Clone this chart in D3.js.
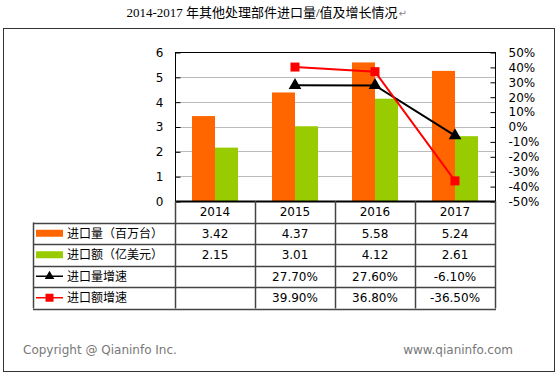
<!DOCTYPE html>
<html>
<head>
<meta charset="utf-8">
<script src="https://cdn.jsdelivr.net/npm/d3@7"></script>
<style>
  body { margin: 0; background: #fff; }
  svg text { font-family: "DejaVu Sans", Verdana, sans-serif; }
</style>
</head>
<body>
<div id="chart"></div>
<script>
  // chart data
  var years = ["2014", "2015", "2016", "2017"];
  var volume = [3.42, 4.37, 5.58, 5.24];        // 进口量（百万台）
  var value = [2.15, 3.01, 4.12, 2.61];         // 进口额（亿美元）
  var volumeGrowth = [null, 27.7, 27.6, -6.1];  // 进口量增速 %
  var valueGrowth = [null, 39.9, 36.8, -36.5];  // 进口额增速 %
  var leftTicks = [0, 1, 2, 3, 4, 5, 6];
  var rightTicks = [50, 40, 30, 20, 10, 0, -10, -20, -30, -40, -50];

  var W = 558, H = 376;
  var plot = {left: 175, right: 495, top: 52, bottom: 201};

  var svg = d3.select("#chart").append("svg")
    .attr("width", W).attr("height", H);

  // title
  var title = svg.append("text")
    .attr("x", 262).attr("y", 17)
    .attr("text-anchor", "middle")
    .style("font-family", "'Liberation Serif', 'Noto Sans CJK SC', serif")
    .style("font-size", "13px")
    .text("2014-2017 年其他处理部件进口量/值及增长情况");
  var tb = title.node().getBBox();
  svg.append("text")
    .attr("x", tb.x + tb.width + 1).attr("y", 17)
    .style("font-size", "10px").attr("fill", "#888")
    .text("↵");

  // outer frame
  svg.append("rect")
    .attr("x", 3.5).attr("y", 28.5).attr("width", 551).attr("height", 343)
    .attr("fill", "none").attr("stroke", "#333").attr("stroke-width", 1);

  var x = d3.scaleBand().domain(years).range([plot.left, plot.right]);
  var y = d3.scaleLinear().domain([0, 6]).range([plot.bottom, plot.top]);
  var y2 = d3.scaleLinear().domain([-50, 50]).range([plot.bottom, plot.top]);
  var barW = 23;

  // grid lines
  svg.append("g").selectAll("line").data(leftTicks.slice(1, -1)).enter()
    .append("line")
    .attr("x1", plot.left).attr("x2", plot.right)
    .attr("y1", function(d) { return Math.round(y(d)) + 0.5; })
    .attr("y2", function(d) { return Math.round(y(d)) + 0.5; })
    .attr("stroke", "#bbb");

  // bars
  svg.append("g").selectAll("rect").data(volume).enter()
    .append("rect")
    .attr("x", function(d, i) { return x(years[i]) + x.bandwidth() / 2 - barW; })
    .attr("y", function(d) { return y(d); })
    .attr("width", barW)
    .attr("height", function(d) { return y(0) - y(d); })
    .attr("fill", "#ff6600");
  svg.append("g").selectAll("rect").data(value).enter()
    .append("rect")
    .attr("x", function(d, i) { return x(years[i]) + x.bandwidth() / 2; })
    .attr("y", function(d) { return y(d); })
    .attr("width", barW)
    .attr("height", function(d) { return y(0) - y(d); })
    .attr("fill", "#99cc00");

  // plot frame
  svg.append("rect")
    .attr("x", plot.left + 0.5).attr("y", plot.top + 0.5)
    .attr("width", plot.right - plot.left).attr("height", plot.bottom - plot.top)
    .attr("fill", "none").attr("stroke", "#000").attr("stroke-width", 1);

  // left axis
  var leftAxis = svg.append("g")
    .attr("transform", "translate(" + (plot.left + 0.5) + ",0.5)")
    .call(d3.axisLeft(y).tickValues(leftTicks).tickSize(-5).tickPadding(12)
      .tickFormat(d3.format("d")));
  leftAxis.select(".domain").remove();
  leftAxis.selectAll("line").attr("stroke", "#000");
  leftAxis.selectAll("text").style("font-size", "12px").attr("fill", "#000");

  // right axis
  var rightAxis = svg.append("g")
    .attr("transform", "translate(" + (plot.right + 0.5) + ",0.5)")
    .call(d3.axisRight(y2).tickValues(rightTicks).tickSize(-5).tickPadding(13)
      .tickFormat(function(d) { return d + "%"; }));
  rightAxis.select(".domain").remove();
  rightAxis.selectAll("line").attr("stroke", "#000");
  rightAxis.selectAll("text").style("font-size", "12px").attr("fill", "#000");

  // growth lines
  var cx = function(i) { return x(years[i]) + x.bandwidth() / 2; };
  var line = d3.line()
    .defined(function(d) { return d != null; })
    .x(function(d, i) { return cx(i); })
    .y(function(d) { return y2(d); });

  svg.append("path").datum(volumeGrowth)
    .attr("d", line).attr("fill", "none")
    .attr("stroke", "#000").attr("stroke-width", 2);
  svg.append("g").selectAll("path").data(volumeGrowth).enter()
    .filter(function(d) { return d != null; })
    .append("path")
    .attr("d", d3.symbol().type(d3.symbolTriangle).size(70))
    .attr("transform", function(d) { return "translate(" + cx(volumeGrowth.indexOf(d)) + "," + y2(d) + ")"; })
    .attr("fill", "#000");

  svg.append("path").datum(valueGrowth)
    .attr("d", line).attr("fill", "none")
    .attr("stroke", "#ff0000").attr("stroke-width", 2);
  svg.append("g").selectAll("rect").data(valueGrowth).enter()
    .filter(function(d) { return d != null; })
    .append("rect")
    .attr("x", function(d) { return cx(valueGrowth.indexOf(d)) - 4.5; })
    .attr("y", function(d) { return y2(d) - 4.5; })
    .attr("width", 9).attr("height", 9)
    .attr("fill", "#ff0000");

  // x axis line
  svg.append("line")
    .attr("x1", plot.left).attr("x2", plot.right + 1)
    .attr("y1", plot.bottom + 0.5).attr("y2", plot.bottom + 0.5)
    .attr("stroke", "#000").attr("stroke-width", 2);

  // data table
  var tableLeft = 33, rowH = 21.5;
  var rows = [
    {name: "进口量（百万台）", vals: volume, fmt: function(d) { return d.toFixed(2); }, mark: "bar", color: "#ff6600"},
    {name: "进口额（亿美元）", vals: value, fmt: function(d) { return d.toFixed(2); }, mark: "bar", color: "#99cc00"},
    {name: "进口量增速", vals: volumeGrowth, fmt: function(d) { return d == null ? "" : d.toFixed(2) + "%"; }, mark: "tri", color: "#000"},
    {name: "进口额增速", vals: valueGrowth, fmt: function(d) { return d == null ? "" : d.toFixed(2) + "%"; }, mark: "sq", color: "#ff0000"}
  ];
  var tg = svg.append("g");
  var rowY = function(r) { return plot.bottom + rowH * (r + 1); };

  // horizontal rules
  for (var r = 0; r <= rows.length; r++) {
    tg.append("line")
      .attr("x1", tableLeft).attr("x2", plot.right + 1)
      .attr("y1", Math.round(rowY(r)) + 0.5).attr("y2", Math.round(rowY(r)) + 0.5)
      .attr("stroke", "#444").attr("stroke-width", 1.5);
  }
  // vertical rules
  tg.append("line")
    .attr("x1", tableLeft + 0.5).attr("x2", tableLeft + 0.5)
    .attr("y1", rowY(0)).attr("y2", rowY(rows.length))
    .attr("stroke", "#444").attr("stroke-width", 1.5);
  years.concat(["end"]).forEach(function(yr, i) {
    var xx = i < years.length ? x(yr) : plot.right;
    tg.append("line")
      .attr("x1", xx + 0.5).attr("x2", xx + 0.5)
      .attr("y1", plot.bottom).attr("y2", rowY(rows.length))
      .attr("stroke", "#444").attr("stroke-width", 1.5);
  });

  // year labels
  tg.selectAll("text.year").data(years).enter()
    .append("text").attr("class", "year")
    .attr("x", function(d) { return x(d) + x.bandwidth() / 2; })
    .attr("y", plot.bottom + 15)
    .attr("text-anchor", "middle")
    .style("font-size", "12px")
    .text(function(d) { return d; });

  rows.forEach(function(row, r) {
    var mid = rowY(r) + rowH / 2;
    if (row.mark == "bar") {
      tg.append("rect").attr("x", 36).attr("y", mid - 3.5)
        .attr("width", 27).attr("height", 7).attr("fill", row.color);
    } else {
      tg.append("line").attr("x1", 36).attr("x2", 63)
        .attr("y1", mid).attr("y2", mid)
        .attr("stroke", row.color).attr("stroke-width", 1.5);
      if (row.mark == "tri") {
        tg.append("path").attr("d", d3.symbol().type(d3.symbolTriangle).size(40))
          .attr("transform", "translate(49.5," + mid + ")").attr("fill", row.color);
      } else {
        tg.append("rect").attr("x", 45.5).attr("y", mid - 4)
          .attr("width", 8).attr("height", 8).attr("fill", row.color);
      }
    }
    tg.append("text")
      .attr("x", 67).attr("y", mid + 4.5)
      .style("font-family", "'Noto Sans CJK SC', sans-serif")
      .style("font-size", "12px")
      .text(row.name);
    row.vals.forEach(function(v, i) {
      tg.append("text")
        .attr("x", cx(i)).attr("y", mid + 4.5)
        .attr("text-anchor", "middle")
        .style("font-size", "12px")
        .text(row.fmt(v));
    });
  });

  // footer
  svg.append("text")
    .attr("x", 23).attr("y", 354)
    .style("font-size", "12px").attr("fill", "#777")
    .text("Copyright @ Qianinfo Inc.");
  svg.append("text")
    .attr("x", 513).attr("y", 354)
    .attr("text-anchor", "end")
    .style("font-size", "12px").attr("fill", "#777")
    .text("www.qianinfo.com");
</script>
</body>
</html>
